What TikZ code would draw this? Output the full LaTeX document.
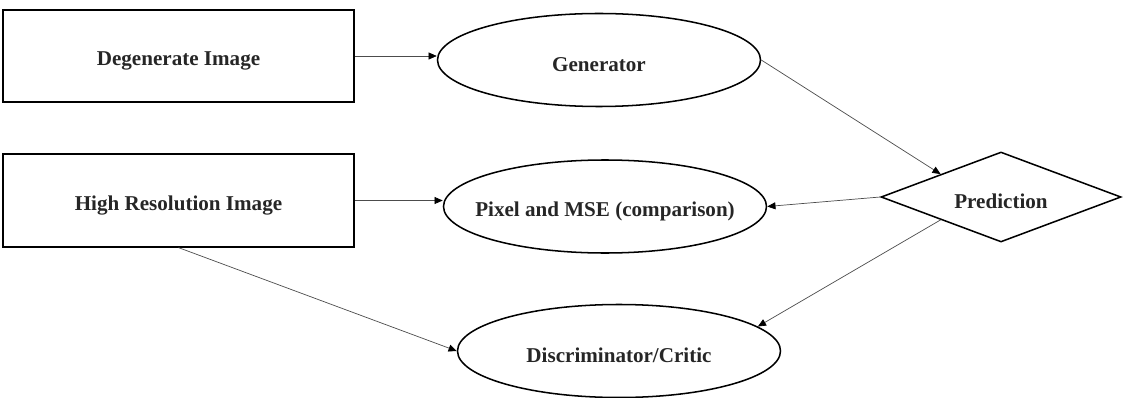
\documentclass[tikz,border=0pt]{standalone}
\usepackage{fontspec}
\setmainfont{Liberation Serif}
\usetikzlibrary{shapes.geometric,arrows.meta}

\begin{document}
\begin{tikzpicture}[
      x = .03cm, y = -.03cm,
      every node/.style = {
        black, text = black!85, inner sep = 1pt, text height = .72cm,
        font = \fontsize{18}{21}\selectfont\bfseries},
      box/.style = {
        rectangle, draw, line width = 1.6pt,
        minimum width = 10.53cm, minimum height = 2.77cm},
      oval/.style = {
        ellipse, draw, line width = 1.3pt, inner xsep = -1.5cm,
        minimum width = 9.69cm, minimum height = 2.79cm},
      decision/.style = {
        diamond, draw, line width = 1.3pt, aspect = 2.7, inner sep = 0pt,
        minimum width = 7.2cm, minimum height = 2.7cm},
      link/.style = {
        draw = black!70, line width = .6pt,
        -{Triangle[length = 7pt, width = 6pt, black]}}
      ]
    \useasboundingbox (0,0) rectangle (1123,398);
    \node[box] (deg) at (178.5,56) {Degenerate Image}; % input
    \node[box] (hr) at (178.5,200.5) {High Resolution Image}; % target
    \node[oval] (gen) at (599,60) {Generator};
    \node[oval] (pix) at (605,206.5) {Pixel and MSE (comparison)};
    \node[oval] (dis) at (619,351) {Discriminator/Critic};
    \node[decision] (pred) at (1001,197) {Prediction};
    \draw[link] (deg.east) -- (deg.east -| gen.west);
    \draw[link] (hr.east) -- (hr.east -| pix.west);
    \draw[link] (gen.east) -- (pred.north west);
    \draw[link] (pred.west) -- (pix.east);
    \draw[link] (pred.south west) -- (dis.10);
    \draw[link] (hr.south) -- (dis.west);
  \end{tikzpicture}
\end{document}
